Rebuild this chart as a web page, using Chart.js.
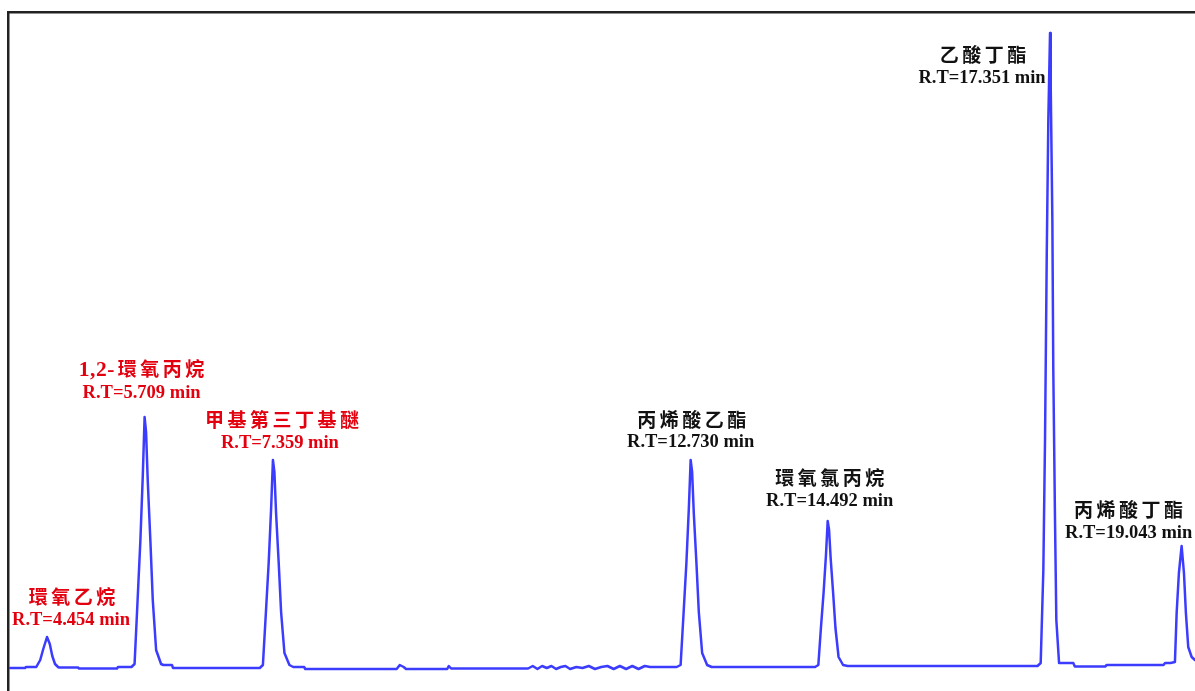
<!DOCTYPE html>
<html>
<head>
<meta charset="utf-8">
<title>Chromatogram</title>
<script src="https://cdn.jsdelivr.net/npm/chart.js@4.4.1/dist/chart.umd.min.js"></script>
<style>
    html, body { margin: 0; padding: 0; background: #fff; }
    .chart-box { position: relative; width: 1195px; height: 691px; }
</style>
</head>
<body>
<div class="chart-box">
    <canvas id="chromChart"></canvas>
</div>
<script>
// Retention time (min) of each sampled point of the trace
const retentionTimes = [
    3.978, 4.171, 4.185, 4.316,
    4.367, 4.406, 4.454, 4.490, 4.522, 4.557, 4.596,
    4.610, 4.853, 4.866, 5.354, 5.367, 5.483, 5.540,
    5.580, 5.619, 5.655, 5.686, 5.709, 5.728, 5.750, 5.784, 5.814, 5.857, 5.921,
    5.950, 6.061, 6.075, 7.190,
    7.230, 7.269, 7.305, 7.336, 7.359, 7.378, 7.400, 7.434, 7.464, 7.507, 7.571,
    7.620, 7.760, 7.775, 8.950, 8.990, 9.040, 9.070, 9.600, 9.620, 9.650, 10.640,
    10.700, 10.760, 10.820, 10.880, 10.940, 11.000, 11.060, 11.120, 11.180, 11.260,
    11.340, 11.420, 11.500, 11.580, 11.660, 11.740, 11.820, 11.900, 11.980, 12.060,
    12.140, 12.210, 12.550,
    12.601, 12.640, 12.676, 12.707, 12.730, 12.749, 12.771, 12.805, 12.835, 12.878, 12.942,
    13.000, 14.330,
    14.372, 14.405, 14.440, 14.470, 14.492, 14.510, 14.531, 14.563, 14.592, 14.632, 14.690,
    14.750, 17.190,
    17.231, 17.265, 17.287, 17.309, 17.329, 17.351, 17.360, 17.381, 17.393, 17.415, 17.432, 17.467,
    17.650, 17.670, 18.060, 18.080, 18.810, 18.830, 18.900,
    18.957, 18.979, 19.008, 19.043, 19.073, 19.098, 19.128, 19.172, 19.214
];

// Detector signal at those times (arbitrary units, baseline = 0)
const signal = [
    0, 0, 1, 1,
    8, 19, 31, 24, 12, 4, 1,
    0.5, 0.5, -0.5, -0.5, 1, 1, 1,
    4, 68, 128, 193, 251, 236, 186, 126, 68, 18, 4,
    3, 3, 0, 0,
    3, 56, 106, 160, 208, 196, 154, 104, 56, 15, 3,
    1, 1, -1, -1, 3, 1, -1, -1, 2, -0.5, -0.5,
    2, -1, 2, 0, 2, -1, 1, 2, -1, 1,
    0, 2, -1, 1, 2, -1, 2, -1, 2, -1,
    2, 1, 1,
    3, 56, 106, 160, 208, 196, 154, 104, 56, 15, 3,
    1, 1,
    3, 40, 76, 113, 147, 138, 109, 74, 40, 11, 3,
    2, 2,
    5, 98, 231, 415, 548, 635, 581, 448, 298, 148, 48, 5,
    5, 1.5, 1.5, 3, 3, 5, 5,
    6, 55, 95, 122, 95, 55, 21, 11, 8
];

// Identified peaks
const peakNames = ['環氧乙烷', '1,2-環氧丙烷', '甲基第三丁基醚', '丙烯酸乙酯', '環氧氯丙烷', '乙酸丁酯', '丙烯酸丁酯'];
const peakRT = [4.454, 5.709, 7.359, 12.730, 14.492, 17.351, 19.043];

// Label placement (pixel offsets from the peak apex) and colours
const labelLayout = [
    { dx: 25, nameDy: -40, rtDx: 24, rtDy: -17 },
    { dx: -3, nameDy: -48, rtDx: -3, rtDy: -24 },
    { dx: 9, nameDy: -40, rtDx: 7, rtDy: -17 },
    { dx: 1, nameDy: -40, rtDx: 0, rtDy: -18 },
    { dx: 2, nameDy: -43, rtDx: 2, rtDy: -20 },
    { dx: -67, nameDy: 22, rtDx: -68, rtDy: 45 },
    { dx: -53, nameDy: -36, rtDx: -53, rtDy: -13 }
];
const labelColors = ['#e3000f', '#e3000f', '#e3000f', '#111', '#111', '#111', '#111'];

const nameFont = "bold 19px 'Noto Sans CJK TC', sans-serif";
const prefixFont = "bold 21.5px 'Liberation Serif', serif";
const rtFont = "bold 18.5px 'Liberation Serif', 'Times New Roman', serif";
const nameSpacing = 3.5;

// Plugin that writes the compound name and retention time above each peak
const peakLabels = {
    id: 'peakLabels',
    afterDatasetsDraw(chart) {
        const { ctx, scales: { x, y } } = chart;
        peakRT.forEach((rt, i) => {
            const idx = retentionTimes.indexOf(rt);
            const px = x.getPixelForValue(rt);
            const py = y.getPixelForValue(signal[idx]);
            const lay = labelLayout[i];

            // latin prefix such as "1,2-" is set in the serif face
            const m = peakNames[i].match(/^[0-9,\-]+/);
            const prefix = m ? m[0] : '';
            const cjk = peakNames[i].slice(prefix.length);

            ctx.save();
            ctx.fillStyle = labelColors[i];
            ctx.textAlign = 'left';
            ctx.textBaseline = 'middle';

            ctx.font = prefixFont;
            ctx.letterSpacing = '0.5px';
            const wPre = prefix ? ctx.measureText(prefix).width + 3 : 0;
            ctx.font = nameFont;
            ctx.letterSpacing = nameSpacing + 'px';
            const wCjk = ctx.measureText(cjk).width - nameSpacing;
            let left = px + lay.dx - (wPre + wCjk) / 2;
            const ny = py + lay.nameDy;
            if (prefix) {
                ctx.letterSpacing = '0.5px';
                ctx.font = prefixFont;
                ctx.fillText(prefix, left, ny + 1);
                left += wPre;
                ctx.font = nameFont;
                ctx.letterSpacing = nameSpacing + 'px';
            }
            ctx.fillText(cjk, left, ny);

            ctx.letterSpacing = '0px';
            ctx.textAlign = 'center';
            ctx.font = rtFont;
            ctx.fillText('R.T=' + rt.toFixed(3) + ' min', px + lay.rtDx, py + lay.rtDy);
            ctx.restore();
        });
    }
};

document.addEventListener('DOMContentLoaded', () => {

    const trace = retentionTimes.map((t, i) => ({ x: t, y: signal[i] }));

    new Chart(document.getElementById('chromChart'), {
        type: 'line',
        data: {
            datasets: [{
                data: trace,
                borderColor: '#3c3cff',
                borderWidth: 2.5,
                borderJoinStyle: 'round',
                borderCapStyle: 'round',
                pointRadius: 0,
                tension: 0,
                fill: false
            }]
        },
        options: {
            responsive: true,
            maintainAspectRatio: false,
            animation: false,
            layout: {
                padding: { left: 8.5, top: 12, right: 0, bottom: 0 }
            },
            plugins: {
                legend: { display: false },
                tooltip: { enabled: false }
            },
            scales: {
                x: {
                    type: 'linear',
                    position: 'top',
                    min: 3.959,
                    max: 19.215,
                    grid: { display: false, drawTicks: false },
                    ticks: { display: false },
                    border: { display: true, color: '#222', width: 2.5 }
                },
                y: {
                    min: -23,
                    max: 656,
                    grid: { display: false, drawTicks: false },
                    ticks: { display: false },
                    border: { display: true, color: '#222', width: 2.5 }
                }
            }
        },
        plugins: [peakLabels]
    });
});
</script>
</body>
</html>
